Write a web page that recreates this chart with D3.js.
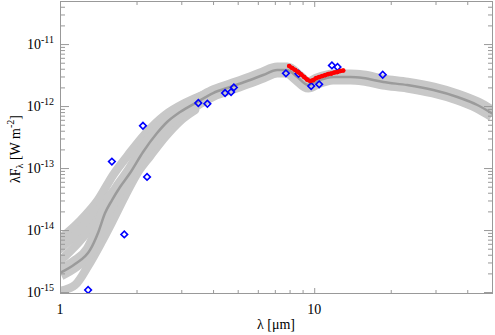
<!DOCTYPE html>
<html>
<head>
<meta charset="utf-8">
<script src="https://cdn.jsdelivr.net/npm/d3@7"></script>
<style>
body{margin:0;background:#fff}
svg{display:block}
text{font-family:"Liberation Serif","DejaVu Serif",serif;fill:#000}
</style>
</head>
<body>
<script>
// photometry (diamonds)
var photWl=[1.29,1.60,1.79,2.12,2.20,3.50,3.80,4.46,4.71,4.83,7.74,8.67,9.73,10.46,11.74,12.35,18.6]
var photF=[1.08e-15,1.27e-13,8.5e-15,4.8e-13,7.2e-14,1.12e-12,1.09e-12,1.62e-12,1.68e-12,2.00e-12,3.37e-12,3.32e-12,2.10e-12,2.24e-12,4.53e-12,4.26e-12,3.20e-12]
// median model SED
var modelWl=[1.00,1.146,1.313,1.411,1.504,1.602,1.723,1.886,2.122,2.409,2.638,2.968,3.462,4.004,4.670,5.598,6.298,7.150,7.83,8.575,9.47,10.27,11.88,13.86,15.59,18.70,23.23,29.42,36.56,43.83,50.5]
var modelF=[2.03e-15,2.83e-15,4.77e-15,8.96e-15,1.88e-14,3.05e-14,4.95e-14,8.32e-14,1.82e-13,3.67e-13,5.53e-13,8.02e-13,1.16e-12,1.62e-12,2.03e-12,2.63e-12,3.17e-12,3.81e-12,3.81e-12,2.94e-12,2.18e-12,2.53e-12,2.94e-12,2.94e-12,2.83e-12,2.44e-12,2.18e-12,1.81e-12,1.40e-12,1.04e-12,7.44e-13]
// individual models that split off at short wavelengths
var strandAWl=[1.000,1.199,1.411,1.617,1.852,2.161,2.590,3.101,3.72]
var strandAF=[7.17e-15,1.40e-14,3.05e-14,7.72e-14,1.62e-13,3.54e-13,7.17e-13,1.12e-12,1.56e-12]
var strandBWl=[1.000,1.177,1.374,1.573,1.754]
var strandBF=[4.94e-15,9.30e-15,1.88e-14,3.67e-14,5.95e-14]
var strandCWl=[1.000,1.177,1.374,1.545]
var strandCF=[3.17e-15,6.18e-15,1.30e-14,2.54e-14]
var strandDWl=[1.000,1.146,1.289,1.450,1.602,1.802,2.029,2.262,2.590,2.968,3.40]
var strandDF=[1.04e-15,1.30e-15,2.63e-15,6.18e-15,1.35e-14,3.54e-14,8.64e-14,1.56e-13,3.17e-13,5.74e-13,8.64e-13]
// spectrum (red)
var specWl=[7.97,8.19,8.42,8.65,8.89,9.13,9.38,9.65,9.91,10.18,10.46,10.75,11.05,11.35,11.67,11.99,12.32,12.66,13.01]
var specF=[4.42e-12,4.10e-12,3.81e-12,3.53e-12,3.22e-12,2.94e-12,2.67e-12,2.53e-12,2.62e-12,2.83e-12,2.94e-12,3.05e-12,3.16e-12,3.28e-12,3.34e-12,3.47e-12,3.53e-12,3.67e-12,3.74e-12]
// axes
var xMajor=[1,10], xMajorLabels=["1","10"]
var xMinor=[2,3,4,5,6,7,8,9,20,30,40]
var yMajorExp=[-15,-14,-13,-12,-11]

var W=495,H=335
var plot={left:60,right:493,top:1,bottom:294}
var x=d3.scaleLog().domain([1,50.5]).range([plot.left,plot.right])
var y=d3.scaleLog().domain([9.3e-16,4.95e-11]).range([plot.bottom,plot.top])

var svg=d3.select("body").append("svg").attr("width",W).attr("height",H)
svg.append("clipPath").attr("id","clip").append("rect")
   .attr("x",plot.left).attr("y",plot.top)
   .attr("width",plot.right-plot.left).attr("height",plot.bottom-plot.top)

var zip=function(a,b){return a.map(function(d,i){return [d,b[i]]})}
var line=d3.line().x(function(d){return x(d[0])}).y(function(d){return y(d[1])}).curve(d3.curveMonotoneX)

var g=svg.append("g").attr("clip-path","url(#clip)")
var strands=[[strandAWl,strandAF],[strandBWl,strandBF],[strandCWl,strandCF],[strandDWl,strandDF]]
g.selectAll(".strand").data(strands).enter().append("path")
 .attr("d",function(d){return line(zip(d[0],d[1]))})
 .attr("fill","none").attr("stroke","#c8c8c8").attr("stroke-width",8.5)
 .attr("stroke-linejoin","round").attr("stroke-linecap","round")
g.append("path").attr("d",line(zip(modelWl,modelF)))
 .attr("fill","none").attr("stroke","#c8c8c8").attr("stroke-width",15)
 .attr("stroke-linejoin","round")
g.append("path").attr("d",line(zip(modelWl,modelF)))
 .attr("fill","none").attr("stroke","#9b9b9b").attr("stroke-width",2.5)
 .attr("stroke-linejoin","round")

// diamonds
var diamond=d3.symbol().type(d3.symbolSquare).size(22)
g.selectAll(".phot").data(zip(photWl,photF)).enter().append("path")
 .attr("d",diamond)
 .attr("transform",function(d){return "translate("+x(d[0])+","+y(d[1])+") rotate(45)"})
 .attr("fill","none").attr("stroke","#0000ff").attr("stroke-width",1.6)

// spectrum
var specLine=d3.line().x(function(d){return x(d[0])}).y(function(d){return y(d[1])})
g.append("path").attr("d",specLine(zip(specWl,specF)))
 .attr("fill","none").attr("stroke","#ff0000").attr("stroke-width",4)
 .attr("stroke-linejoin","round").attr("stroke-linecap","round")
g.selectAll(".spec").data(zip(specWl,specF)).enter().append("circle")
 .attr("cx",function(d){return x(d[0])}).attr("cy",function(d){return y(d[1])})
 .attr("r",2.3).attr("fill","#ff0000")

// frame and ticks
var tickCol="#999"
var yMajor=yMajorExp.map(function(e){return Math.pow(10,e)})
var yMinor=[]
for(var e=-16;e<=-11;e++){for(var k=2;k<=9;k++){var v=k*Math.pow(10,e);if(v>9.3e-16&&v<4.95e-11)yMinor.push(v)}}
var axisG=function(gen,tr){
  svg.append("g").attr("transform",tr).call(gen)
     .call(function(s){s.select(".domain").remove();s.selectAll("line").attr("stroke",tickCol);s.selectAll("text").remove()})
}
axisG(d3.axisBottom(x).tickValues(xMajor).tickSize(-6),"translate(0,"+plot.bottom+")")
axisG(d3.axisBottom(x).tickValues(xMinor).tickSize(-4),"translate(0,"+plot.bottom+")")
axisG(d3.axisTop(x).tickValues(xMajor).tickSize(-6),"translate(0,"+plot.top+")")
axisG(d3.axisTop(x).tickValues(xMinor).tickSize(-4),"translate(0,"+plot.top+")")
axisG(d3.axisLeft(y).tickValues(yMajor).tickSize(-9),"translate("+plot.left+",0)")
axisG(d3.axisLeft(y).tickValues(yMinor).tickSize(-5),"translate("+plot.left+",0)")
axisG(d3.axisRight(y).tickValues(yMajor).tickSize(-9),"translate("+plot.right+",0)")
axisG(d3.axisRight(y).tickValues(yMinor).tickSize(-5),"translate("+plot.right+",0)")
svg.append("rect").attr("x",plot.left+0.5).attr("y",plot.top+0.5)
   .attr("width",plot.right-plot.left-1).attr("height",plot.bottom-plot.top-1)
   .attr("fill","none").attr("stroke",tickCol)

// tick labels
svg.selectAll(".xl").data(xMajor).enter().append("text")
   .attr("x",function(d){return x(d)}).attr("y",314)
   .attr("text-anchor","middle").attr("font-size",14)
   .text(function(d,i){return xMajorLabels[i]})
var yl=svg.selectAll(".yl").data(yMajorExp).enter().append("text")
   .attr("x",54).attr("y",function(d){return y(Math.pow(10,d))+5})
   .attr("text-anchor","end").attr("font-size",14)
yl.append("tspan").text("10")
yl.append("tspan").attr("dy",-6).attr("font-size",10).text(function(d){return "-"+Math.abs(d)})

// axis titles
svg.append("text").attr("x",276).attr("y",329).attr("text-anchor","middle").attr("font-size",14)
   .text("λ [μm]")
var yt=svg.append("text").attr("transform","translate(20,149) rotate(-90)")
   .attr("text-anchor","middle").attr("font-size",14)
yt.append("tspan").text("λF")
yt.append("tspan").attr("dy",3).attr("font-size",10).text("λ")
yt.append("tspan").attr("dy",-3).text(" [W m")
yt.append("tspan").attr("dy",-6).attr("font-size",10).text("-2")
yt.append("tspan").attr("dy",6).text("]")
</script>
</body>
</html>
